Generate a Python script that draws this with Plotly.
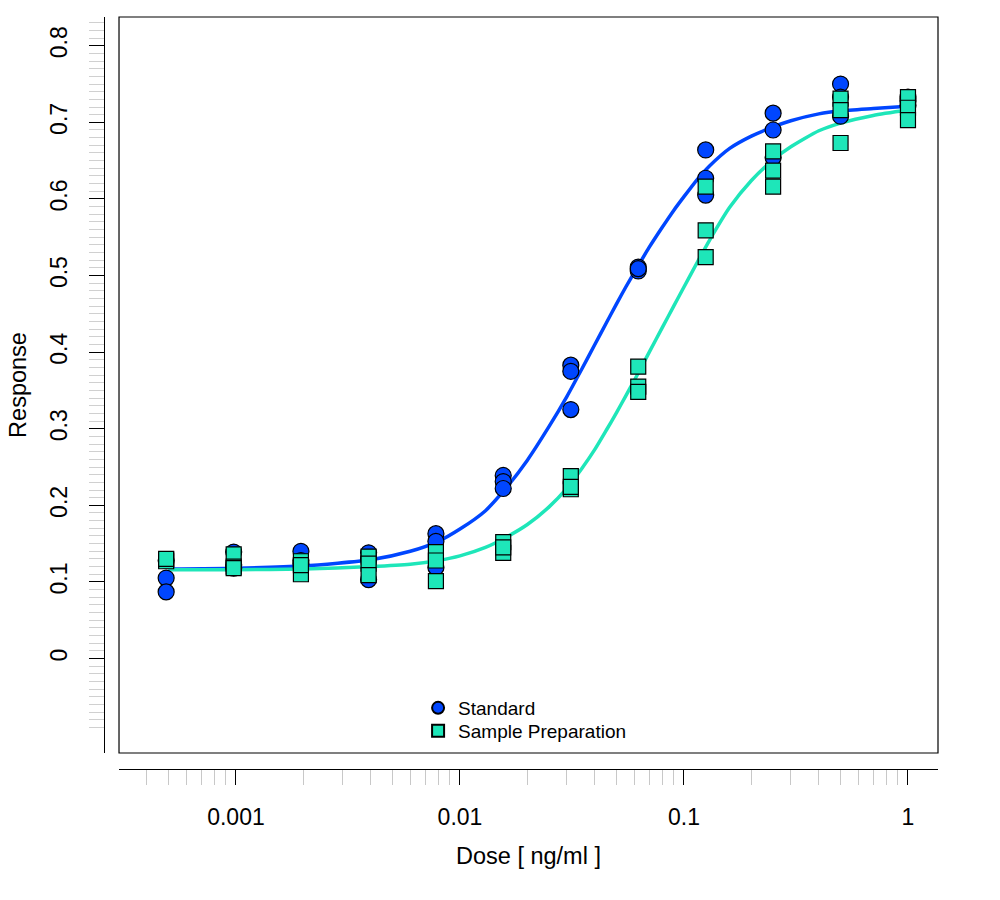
import plotly.graph_objects as go

# ---- data ----
doses = [0.000488, 0.000977, 0.00195, 0.00391, 0.00781, 0.0156,
         0.03125, 0.0625, 0.125, 0.25, 0.5, 1.0]

std_rep1 = [0.128, 0.139, 0.140, 0.138, 0.163, 0.239, 0.383, 0.511, 0.664, 0.712, 0.750, 0.733]
std_rep2 = [0.105, 0.118, 0.128, 0.103, 0.153, 0.231, 0.375, 0.506, 0.627, 0.690, 0.733, 0.728]
std_rep3 = [0.087, 0.122, 0.124, 0.130, 0.119, 0.222, 0.325, 0.509, 0.605, 0.654, 0.708, 0.722]

smp_rep1 = [0.129, 0.136, 0.127, 0.133, 0.139, 0.152, 0.238, 0.381, 0.616, 0.662, 0.731, 0.733]
smp_rep2 = [0.127, 0.120, 0.110, 0.124, 0.128, 0.138, 0.221, 0.355, 0.559, 0.637, 0.716, 0.719]
smp_rep3 = [0.130, 0.118, 0.122, 0.109, 0.101, 0.145, 0.224, 0.348, 0.524, 0.616, 0.673, 0.703]

curve_dose = [0.0005, 0.001, 0.002, 0.004, 0.006, 0.008, 0.01, 0.013, 0.016, 0.02,
              0.025, 0.03, 0.035, 0.04, 0.045, 0.05, 0.055, 0.06, 0.07, 0.08, 0.09, 0.1,
              0.115, 0.13, 0.16, 0.2, 0.25, 0.3, 0.4, 0.5, 0.7, 1.0]
std_fit = [0.117, 0.118, 0.121, 0.129, 0.140, 0.153, 0.169, 0.193, 0.222, 0.259,
           0.303, 0.342, 0.378, 0.410, 0.438, 0.463, 0.485, 0.504, 0.537, 0.563, 0.585, 0.603,
           0.626, 0.643, 0.666, 0.682, 0.694, 0.702, 0.711, 0.715, 0.718, 0.721]
smp_fit = [0.116, 0.116, 0.117, 0.120, 0.123, 0.128, 0.134, 0.145, 0.158, 0.175,
           0.198, 0.222, 0.248, 0.273, 0.298, 0.321, 0.343, 0.363, 0.400, 0.432, 0.460, 0.485,
           0.518, 0.546, 0.589, 0.624, 0.651, 0.668, 0.689, 0.699, 0.709, 0.716]

x_ticks = [0.001, 0.01, 0.1, 1]
x_tick_text = ["0.001", "0.01", "0.1", "1"]
y_ticks = [0, 0.1, 0.2, 0.3, 0.4, 0.5, 0.6, 0.7, 0.8]
y_tick_text = ["0", "0.1", "0.2", "0.3", "0.4", "0.5", "0.6", "0.7", "0.8"]

BLUE = "#0046ff"
TEAL = "#1ee6b9"

x_minor = [m * 10 ** e for e in range(-4, 1) for m in range(2, 10) if 0.0003 <= m * 10 ** e <= 0.95]
y_minor = [round(-0.09 + 0.01 * i, 2) for i in range(93)]

fig = go.Figure()
fig.add_trace(go.Scatter(x=curve_dose, y=std_fit, mode="lines", line=dict(color=BLUE, width=3.5, shape="spline", smoothing=0.6),
                         showlegend=False, hoverinfo="skip"))
fig.add_trace(go.Scatter(x=curve_dose, y=smp_fit, mode="lines", line=dict(color=TEAL, width=3.5, shape="spline", smoothing=0.6),
                         showlegend=False, hoverinfo="skip"))

std_x = doses * 3
std_y = std_rep1 + std_rep2 + std_rep3
smp_x = doses * 3
smp_y = smp_rep1 + smp_rep2 + smp_rep3

fig.add_trace(go.Scatter(x=std_x, y=std_y, mode="markers", name="Standard", legend="legend",
                         marker=dict(symbol="circle", size=16, color=BLUE, line=dict(color="black", width=1.2))))
fig.add_trace(go.Scatter(x=smp_x, y=smp_y, mode="markers", name="Sample Preparation", legend="legend2",
                         marker=dict(symbol="square", size=15, color=TEAL, line=dict(color="black", width=1.2))))

fig.add_shape(type="rect", xref="x domain", yref="y domain", x0=0, x1=1, y0=0, y1=1,
              line=dict(color="black", width=1.2), fillcolor="rgba(0,0,0,0)")

legend_common = dict(xanchor="left", yanchor="top", bgcolor="rgba(0,0,0,0)",
                     font=dict(size=19), itemsizing="constant")

fig.update_layout(
    width=1000, height=900,
    margin=dict(l=104, r=62, t=17, b=131),
    plot_bgcolor="white", paper_bgcolor="white",
    font=dict(family="Liberation Sans, Arial, sans-serif", size=20, color="black"),
    legend=dict(x=0.3766, y=0.1064, **legend_common),
    legend2=dict(x=0.3766, y=0.0758, **legend_common),
    xaxis=dict(type="log", domain=[0.018, 1], range=[-3.522, 0.134], anchor="free", position=0,
               showline=True, linecolor="black", linewidth=1.2, showgrid=False, zeroline=False,
               ticks="outside", ticklen=15, tickcolor="black", tickwidth=1.2,
               tickmode="array", tickvals=x_ticks, ticktext=x_tick_text, ticklabelstandoff=12,
               tickfont=dict(size=23),
               minor=dict(tickmode="array", tickvals=x_minor, ticks="outside", ticklen=15,
                          tickcolor="#c8c8c8", tickwidth=1, showgrid=False),
               title=dict(text="Dose [ ng/ml ]", standoff=18, font=dict(size=23.5))),
    yaxis=dict(domain=[0.0213, 1], range=[-0.1233, 0.8375], anchor="free", position=0,
               showline=True, linecolor="black", linewidth=1.2, showgrid=False, zeroline=False,
               ticks="outside", ticklen=15, tickcolor="black", tickwidth=1.2,
               tickmode="array", tickvals=y_ticks, ticktext=y_tick_text, tickangle=-90,
               ticklabelstandoff=13, tickfont=dict(size=23),
               minor=dict(tickmode="array", tickvals=y_minor, ticks="outside", ticklen=15,
                          tickcolor="#d0d0d0", tickwidth=1, showgrid=False),
               title=dict(text="Response", standoff=11, font=dict(size=23.5))),
)

fig.write_html("out.html")
